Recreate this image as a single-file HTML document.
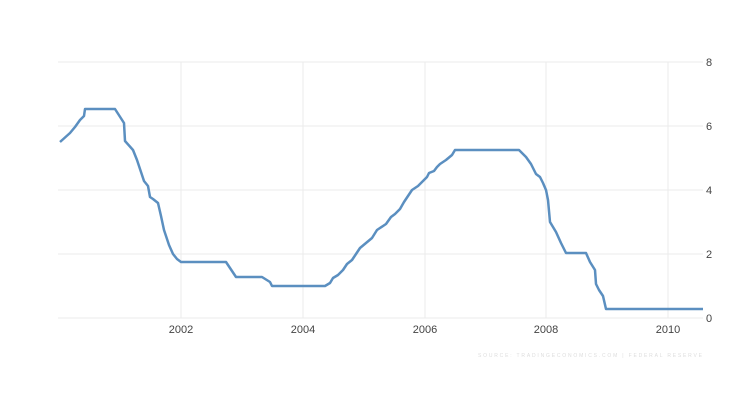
<!DOCTYPE html><html><head><style>body{margin:0;background:#fff;width:754px;height:402px;overflow:hidden}</style></head><body>
<svg width="754" height="402" xmlns="http://www.w3.org/2000/svg" font-family="Liberation Sans, sans-serif">
<g stroke="#ebebeb" stroke-width="1">
<line x1="58" y1="62" x2="703" y2="62"/><line x1="58" y1="126" x2="703" y2="126"/><line x1="58" y1="190" x2="703" y2="190"/><line x1="58" y1="254" x2="703" y2="254"/><line x1="58" y1="318" x2="703" y2="318"/>
<line x1="181" y1="62" x2="181" y2="318"/><line x1="303" y1="62" x2="303" y2="318"/><line x1="425" y1="62" x2="425" y2="318"/><line x1="546" y1="62" x2="546" y2="318"/><line x1="668" y1="62" x2="668" y2="318"/>
</g>
<g font-size="11" fill="#444">
<text x="706" y="66">8</text><text x="706" y="130">6</text><text x="706" y="194">4</text><text x="706" y="258">2</text><text x="706" y="322">0</text>
<g text-anchor="middle"><text x="181" y="333">2002</text><text x="303" y="333">2004</text><text x="425" y="333">2006</text><text x="546" y="333">2008</text><text x="668" y="333">2010</text></g>
</g>
<text x="478" y="357" font-size="5" fill="#ddd" textLength="224">SOURCE: TRADINGECONOMICS.COM | FEDERAL RESERVE</text>
<polyline fill="none" stroke="#5b8fc0" stroke-width="2.5" stroke-linejoin="round" points="60,142 70,133 75,127 80,120 84,116 85,109 115,109 124,123 125,141 133,150 137,160 141,172 144,181 148,186 150,197 153,199 158,203 161,216 164,230 169,245 173,254 177,259 181,262 226,262 236,277 262,277 270,282 272,286 325,286 330,283 333,278 338,275 343,270 347,264 352,260 356,254 360,248 366,243 372,238 377,230 386,224 391,217 395,214 400,209 404,202 408,196 412,190 418,186 422,182 427,177 429,173 434,171 437,167 440,164 446,160 452,155 455,150 519,150 526,157 531,164 536,174 540,177 543,183 546,190 548,200 550,222 556,232 561,243 566,253 586,253 590,262 595,270 596,284 599,290 603,296 606,309 703,309"/>
</svg>
</body></html>
